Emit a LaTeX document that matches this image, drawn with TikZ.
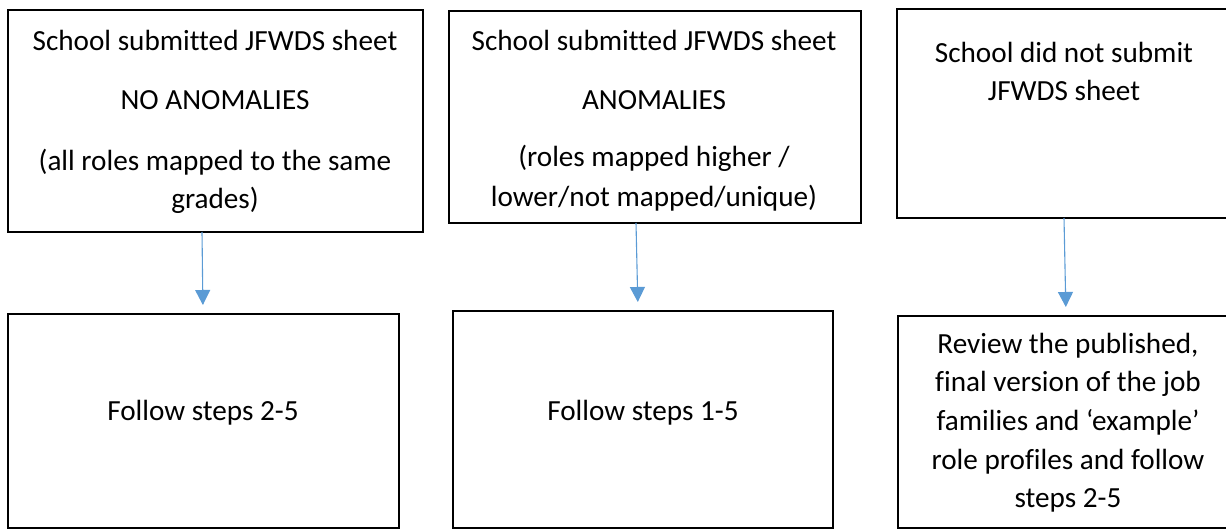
\documentclass[tikz,border=0pt]{standalone}
\usepackage{fontspec}
\setmainfont[Ligatures=NoCommon]{Carlito}
\usetikzlibrary{arrows.meta}
\definecolor{arrowblue}{HTML}{5B9BD5}
\tikzset{
  boxnode/.style={draw=black, line width=2.6pt, inner sep=0pt, outer sep=0pt, rectangle},
  txt/.style={inner sep=0pt, outer sep=0pt, anchor=base,
    font=\fontsize{29.2}{38.7}\selectfont},
  arr/.style={draw=arrowblue, line width=1.1pt,
    -{Triangle[width=15pt,length=15pt]}, shorten >=9pt}
}
\newcommand{\tl}[1]{\begin{tabular}[t]{@{}c@{}}#1\end{tabular}}
\begin{document}
\begin{tikzpicture}[x=1pt,y=-1pt]
\useasboundingbox (0,0) rectangle (1226,530);
% boxes
\node[boxnode, minimum width=415pt, minimum height=222pt] (b1) at (215.5,121) {};
\node[boxnode, minimum width=412pt, minimum height=212pt] (b2) at (655,117) {};
\node[boxnode, minimum width=343pt, minimum height=209pt] (b3) at (1068.5,113.5) {};
\node[boxnode, minimum width=391pt, minimum height=214pt] (b4) at (203.5,421) {};
\node[boxnode, minimum width=380pt, minimum height=217pt] (b5) at (643,419.5) {};
\node[boxnode, minimum width=342pt, minimum height=212pt] (b6) at (1069,422) {};
% texts
\node[txt] (t1) at (215,50) {\tl{School submitted JFWDS sheet\\[20.3pt]NO ANOMALIES\\[22.3pt](all roles mapped to the same\\grades)}};
\node[txt] (t2) at (654,50) {\tl{School submitted JFWDS sheet\\[20.3pt]ANOMALIES\\[18.3pt](roles mapped higher /\\[1.5pt]lower/not mapped/unique)}};
\node[txt] (t3) at (1064,62) {\tl{School did not submit\\JFWDS sheet}};
\node[txt] (t4) at (203,420) {Follow steps 2-5};
\node[txt] (t5) at (643,420) {Follow steps 1-5};
\node[txt] (t6) at (1068,353) {\tl{Review the published,\\final version of the job\\families and ‘example’\\role profiles and follow\\steps 2-5}};
% arrows
\draw[arr] ([xshift=194pt]b1.south west) -- ([xshift=195pt]b4.north west);
\draw[arr] ([xshift=187pt]b2.south west) -- ([xshift=185pt]b5.north west);
\draw[arr] ([xshift=167pt]b3.south west) -- ([xshift=168pt]b6.north west);
\end{tikzpicture}
\end{document}
